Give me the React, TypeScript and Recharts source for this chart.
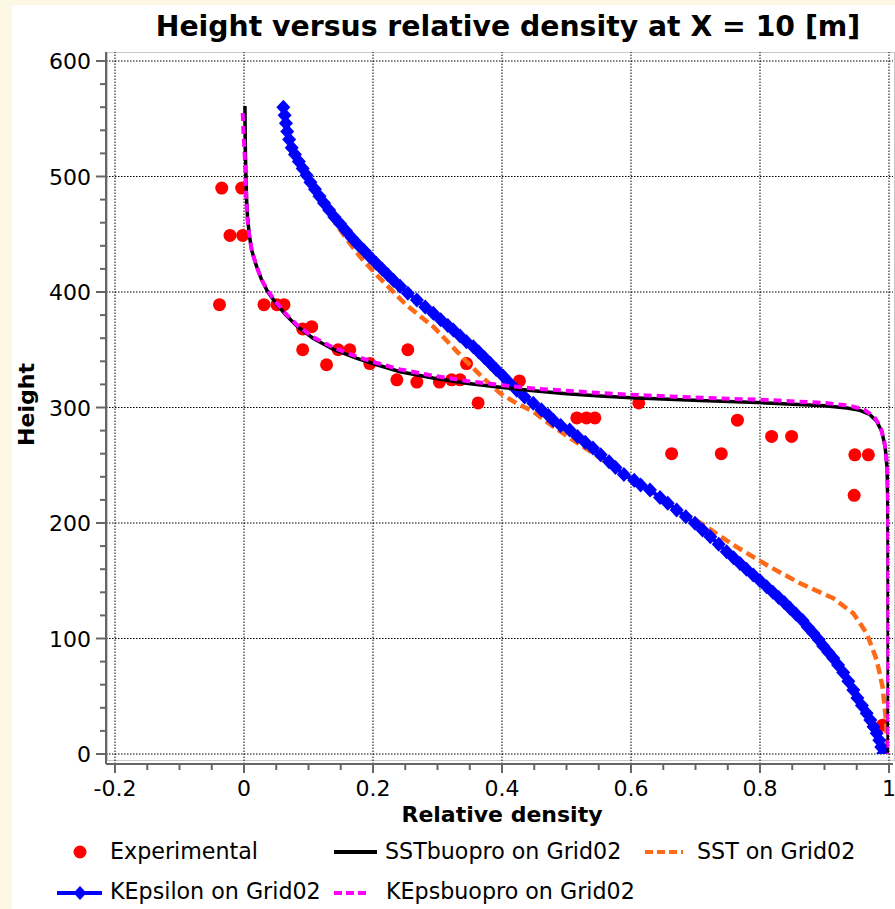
import React from 'react';
import { ScatterChart, Scatter, XAxis, YAxis, ReferenceLine } from 'recharts';

const FONT = '"DejaVu Sans", Verdana, sans-serif';

const xTicks = [-0.2, -0.15, -0.1, -0.05, 0, 0.05, 0.1, 0.15, 0.2, 0.25, 0.3, 0.35, 0.4, 0.45, 0.5, 0.55, 0.6, 0.65, 0.7, 0.75, 0.8, 0.85, 0.9, 0.95, 1];
const xMajorTicks = [-0.2, 0, 0.2, 0.4, 0.6, 0.8, 1];
const yTicks = [0, 20, 40, 60, 80, 100, 120, 140, 160, 180, 200, 220, 240, 260, 280, 300, 320, 340, 360, 380, 400, 420, 440, 460, 480, 500, 520, 540, 560, 580, 600];
const yMajorTicks = [0, 100, 200, 300, 400, 500, 600];

const experimental: [number, number][] = [
  [-0.0345, 490], [-0.0036, 490], [-0.0217, 449], [-0.002, 449], [-0.038, 389], [0.031, 389],
  [0.051, 389], [0.062, 389], [0.091, 368], [0.105, 370], [0.091, 350], [0.128, 337], [0.146, 350],
  [0.164, 350], [0.195, 338], [0.254, 350], [0.237, 324], [0.268, 322], [0.303, 322], [0.322, 324],
  [0.335, 324], [0.345, 338], [0.363, 304], [0.427, 323], [0.516, 291], [0.531, 291], [0.544, 291],
  [0.612, 304], [0.765, 289], [0.663, 260], [0.74, 260], [0.818, 275], [0.849, 275], [0.947, 259],
  [0.968, 259], [0.946, 224], [0.99, 25],
];

const sstBuopro: [number, number][] = [
  [0.0015, 561], [0.0018, 540], [0.0022, 520], [0.003, 500], [0.004, 480], [0.0055, 465], [0.008, 450],
  [0.012, 436], [0.019, 423], [0.027, 411], [0.037, 400], [0.05, 390], [0.065, 380], [0.083, 370],
  [0.107, 360], [0.138, 350.5], [0.175, 342.5], [0.206, 337], [0.242, 331], [0.293, 325.5], [0.345, 321],
  [0.397, 317.5], [0.449, 314.5], [0.5, 312], [0.552, 310], [0.6, 308.5], [0.707, 306], [0.81, 304],
  [0.9, 301.5], [0.935, 299.5], [0.955, 297.5], [0.97, 294], [0.981, 288], [0.989, 279], [0.994, 266],
  [0.997, 248], [0.998, 220], [0.9985, 180], [0.9987, 100], [0.9987, 0],
];

const sst: [number, number][] = [
  [0.061, 560], [0.064, 550], [0.068, 538], [0.074, 526], [0.082, 516], [0.092, 505], [0.104, 492],
  [0.1178, 479.7], [0.1385, 462.3], [0.159, 446], [0.1798, 430.6], [0.2083, 413.2], [0.23, 401],
  [0.252, 388.5], [0.2935, 370], [0.32, 354.5], [0.3452, 339.7], [0.371, 325.5], [0.397, 312.3],
  [0.423, 303.5], [0.4485, 296.4], [0.4795, 283.4], [0.511, 271.5], [0.541, 260.5], [0.572, 248.5],
  [0.603, 237], [0.629, 227], [0.655, 217], [0.6966, 204], [0.728, 192.5], [0.7586, 181], [0.8104, 163.6],
  [0.862, 147.8], [0.9137, 134.8], [0.9447, 121.8], [0.9654, 104.5], [0.981, 81.4], [0.99, 58.3],
  [0.9953, 29.4], [0.9974, 0.6],
];

const kEpsilon: [number, number][] = [
  [0.061, 560], [0.063, 553], [0.065, 546], [0.067, 539], [0.07, 532], [0.074, 525], [0.079, 519],
  [0.085, 513], [0.091, 507], [0.097, 501], [0.103, 495], [0.11, 489], [0.117, 483], [0.124, 477],
  [0.132, 471], [0.14, 465], [0.149, 459], [0.158, 453], [0.167, 447], [0.177, 441], [0.186, 436],
  [0.195, 430.5], [0.205, 425], [0.214, 420], [0.223, 415], [0.232, 410], [0.242, 405], [0.254, 399],
  [0.268, 393], [0.281, 387], [0.2935, 381.6], [0.305, 376], [0.316, 371], [0.3245, 367], [0.335, 362],
  [0.345, 357], [0.3555, 352.6], [0.364, 348], [0.373, 343], [0.382, 338], [0.391, 333], [0.402, 327],
  [0.412, 321], [0.423, 315], [0.435, 309], [0.4485, 303.6], [0.461, 298], [0.472, 293], [0.4795, 289],
  [0.491, 284.5], [0.505, 280.5], [0.517, 275], [0.529, 270], [0.541, 265], [0.553, 259], [0.566, 253],
  [0.576, 248], [0.589, 242], [0.605, 237], [0.615, 233], [0.6295, 228.6], [0.645, 222], [0.657, 217],
  [0.6708, 211.3], [0.685, 205.5], [0.6992, 199.7], [0.711, 194], [0.723, 188], [0.736, 181.5],
  [0.7483, 175.2], [0.759, 170], [0.769, 165], [0.779, 160], [0.7896, 155], [0.8, 150], [0.8103, 144.9],
  [0.82, 140], [0.829, 135.5], [0.838, 131], [0.8465, 126.1], [0.856, 121], [0.866, 115.5], [0.874, 110],
  [0.8827, 104.5], [0.891, 99], [0.898, 93.5], [0.906, 88], [0.9137, 82.9], [0.921, 77], [0.929, 70.5],
  [0.937, 63], [0.9447, 55.4], [0.951, 48.5], [0.958, 42], [0.9654, 35.2], [0.971, 29.5], [0.976, 23.5],
  [0.9809, 17.9], [0.985, 12], [0.988, 6], [0.9912, 0.6],
];

const kEpsBuopro: [number, number][] = [
  [-0.002, 555], [-0.001, 540], [0.001, 520], [0.0025, 500], [0.0035, 480], [0.005, 465], [0.008, 450],
  [0.012, 436], [0.019, 423], [0.027, 411], [0.037, 401], [0.05, 391], [0.065, 381], [0.083, 371],
  [0.107, 361], [0.138, 352], [0.175, 344], [0.206, 338.5], [0.242, 333], [0.293, 327.5], [0.345, 323],
  [0.397, 319.5], [0.449, 316.5], [0.5, 314.5], [0.552, 312.5], [0.6, 311], [0.707, 308.5], [0.81, 306.5],
  [0.9, 304], [0.94, 301.5], [0.962, 298], [0.977, 292], [0.987, 283], [0.993, 270], [0.997, 250],
  [0.9985, 225], [0.999, 180], [0.999, 100], [0.999, 0],
];

const toPts = (arr: [number, number][]) => arr.map(([x, y]) => ({ x, y }));

const seriesNames = {
  exp: 'Experimental',
  sstb: 'SSTbuopro on Grid02',
  sst: 'SST on Grid02',
  ke: 'KEpsilon on Grid02',
  keb: 'KEpsbuopro on Grid02',
};

const COLORS = {
  exp: '#ff0000',
  sstb: '#000000',
  sst: '#ff6a19',
  ke: '#0000ff',
  keb: '#ff00ff',
};

const isIn = (list: number[], v: number) => list.some((m) => Math.abs(m - v) < 1e-9);

const XTick = (props: any) => {
  const { x, y, payload } = props;
  const v = payload.value;
  const major = isIn(xMajorTicks, v);
  return (
    <g>
      <line x1={x} x2={x} y1={y} y2={y + (major ? 9 : 6)} stroke="#666" strokeWidth={2} />
      {major && (
        <text x={x} y={y + 32} textAnchor="middle" fontSize={22} fill="#000" fontFamily={FONT}>
          {String(v)}
        </text>
      )}
    </g>
  );
};

const YTick = (props: any) => {
  const { x, y, payload } = props;
  const v = payload.value;
  const major = isIn(yMajorTicks, v);
  return (
    <g>
      <line x1={x - (major ? 10 : 6)} x2={x} y1={y} y2={y} stroke="#666" strokeWidth={2} />
      {major && (
        <text x={x - 15} y={y + 8} textAnchor="end" fontSize={22} fill="#000" fontFamily={FONT}>
          {String(v)}
        </text>
      )}
    </g>
  );
};

const NoShape = () => <g />;
const RedDot = (p: any) => <circle cx={p.cx} cy={p.cy} r={6.5} fill={COLORS.exp} />;
const Diamond = (p: any) => (
  <polygon
    points={`${p.cx},${p.cy - 7.5} ${p.cx + 7},${p.cy} ${p.cx},${p.cy + 7.5} ${p.cx - 7},${p.cy}`}
    fill={COLORS.ke}
  />
);

const XLabel = (props: any) => {
  const vb = props.viewBox;
  return (
    <text x={vb.x + 9 + (vb.width - 13) / 2} y={vb.y + 58} textAnchor="middle" fontSize={22} fontWeight="bold" fontFamily={FONT} fill="#000">
      Relative density
    </text>
  );
};

const YLabel = (props: any) => {
  const vb = props.viewBox;
  const cx = vb.x + 24;
  const cy = vb.y + 9 + (vb.height - 19) / 2 - 3;
  return (
    <text x={cx} y={cy} transform={`rotate(-90, ${cx}, ${cy})`} textAnchor="middle" fontSize={22} fontWeight="bold" fontFamily={FONT} fill="#000">
      Height
    </text>
  );
};

export default function App() {
  return (
    <div style={{ position: 'absolute', left: 0, top: 0, width: 895, height: 909, background: '#fdf8e5', overflow: 'hidden' }}>
      <div style={{ position: 'absolute', left: 12, top: 5, width: 883, height: 904, background: '#ffffff' }} />
      <div style={{ position: 'absolute', left: 106, top: 52, width: 786, height: 707, border: '1px solid #c8c8c8', borderLeft: '2px solid #c8c8c8' }} />
      <div style={{ position: 'absolute', left: 0, top: 0 }}>
        <ScatterChart width={895} height={909} margin={{ top: 52, right: 2, bottom: 85, left: 10 }}>
          <XAxis
            type="number"
            dataKey="x"
            domain={[-0.2, 1]}
            allowDataOverflow
            ticks={xTicks}
            interval={0}
            padding={{ left: 9, right: 4 }}
            height={60}
            tickSize={0}
            tickMargin={0}
            tickLine={false}
            axisLine={{ stroke: '#666', strokeWidth: 2 }}
            tick={<XTick />}
            label={XLabel}
          />
          <YAxis
            type="number"
            dataKey="y"
            domain={[0, 600]}
            allowDataOverflow
            ticks={yTicks}
            interval={0}
            padding={{ top: 9, bottom: 10 }}
            width={96}
            tickSize={0}
            tickMargin={0}
            tickLine={false}
            axisLine={{ stroke: '#666', strokeWidth: 2 }}
            tick={<YTick />}
            label={YLabel}
          />
          {xMajorTicks.map((v) => (
            <ReferenceLine key={'gx' + v} x={v} stroke="#000" strokeWidth={1} strokeDasharray="1.5 1.5" />
          ))}
          {yMajorTicks.map((v) => (
            <ReferenceLine key={'gy' + v} y={v} stroke="#000" strokeWidth={1} strokeDasharray="1.5 1.5" />
          ))}
          <Scatter name={seriesNames.exp} data={toPts(experimental)} fill={COLORS.exp} shape={RedDot} isAnimationActive={false} />
          <Scatter
            name={seriesNames.sst}
            data={toPts(sst)}
            fill={COLORS.sst}
            shape={NoShape}
            line={{ stroke: COLORS.sst, strokeWidth: 4.5, strokeDasharray: '10 5' }}
            isAnimationActive={false}
          />
          <Scatter
            name={seriesNames.ke}
            data={toPts(kEpsilon)}
            fill={COLORS.ke}
            shape={Diamond}
            line={{ stroke: COLORS.ke, strokeWidth: 4 }}
            isAnimationActive={false}
          />
          <Scatter
            name={seriesNames.sstb}
            data={toPts(sstBuopro)}
            fill={COLORS.sstb}
            shape={NoShape}
            line={{ stroke: COLORS.sstb, strokeWidth: 3.5 }}
            isAnimationActive={false}
          />
          <Scatter
            name={seriesNames.keb}
            data={toPts(kEpsBuopro)}
            fill={COLORS.keb}
            shape={NoShape}
            line={{ stroke: COLORS.keb, strokeWidth: 4, strokeDasharray: '8 5' }}
            isAnimationActive={false}
          />
        </ScatterChart>
      </div>
      <svg width={895} height={909} style={{ position: 'absolute', left: 0, top: 0, pointerEvents: 'none' }} fontFamily={FONT}>
        <text x={508} y={36} textAnchor="middle" fontSize={28.3} fontWeight="bold" fill="#000">
          Height versus relative density at X = 10 [m]
        </text>
        <g fontSize={22.2} fill="#000">
          <circle cx={80} cy={852} r={6.5} fill={COLORS.exp} />
          <text x={110} y={859}>{seriesNames.exp}</text>
          <line x1={334} x2={377} y1={852} y2={852} stroke={COLORS.sstb} strokeWidth={4} />
          <text x={385} y={859}>{seriesNames.sstb}</text>
          <line x1={645} x2={683} y1={852} y2={852} stroke={COLORS.sst} strokeWidth={4} strokeDasharray="8 4" />
          <text x={697} y={859}>{seriesNames.sst}</text>
          <line x1={57} x2={102} y1={893} y2={893} stroke={COLORS.ke} strokeWidth={4} />
          <polygon points="80,886 86.5,893 80,900 73.5,893" fill={COLORS.ke} />
          <text x={110} y={899}>{seriesNames.ke}</text>
          <line x1={334} x2={366} y1={893} y2={893} stroke={COLORS.keb} strokeWidth={4} strokeDasharray="8 4" />
          <text x={386} y={899}>{seriesNames.keb}</text>
        </g>
      </svg>
    </div>
  );
}
